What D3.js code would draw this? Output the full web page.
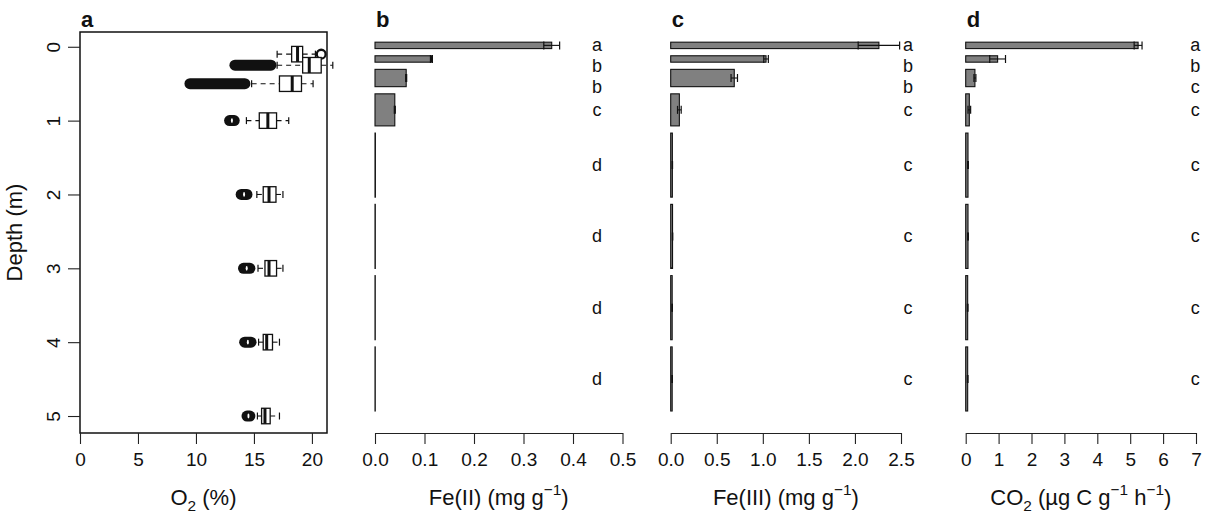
<!DOCTYPE html>
<html>
<head>
<meta charset="utf-8">
<script src="https://cdn.jsdelivr.net/npm/d3@7"></script>
<style>
    body { margin: 0; background: #fff; }
    svg text { font-family: "Liberation Sans", Arial, Helvetica, sans-serif; fill: #111; }
</style>
</head>
<body>
<svg id="chart" width="1211" height="515"></svg>
<script>
// soil layers used by the bar panels (thickness in m)
const layerNames = ["0-0.1", "0.1-0.2", "0.2-0.5", "0.5-1", "1-2", "2-3", "3-4", "4-5"];
const layerThickness = [0.1, 0.1, 0.27, 0.5, 1, 1, 1, 1];

// panel a: O2 boxplots per depth
const o2Depth = [0.1, 0.25, 0.5, 1, 2, 3, 4, 5];
const o2WhiskerLo = [17.0, 17.0, 14.8, 14.35, 15.25, 15.35, 15.4, 15.3];
const o2Q1 = [18.25, 19.2, 17.2, 15.46, 15.8, 15.95, 15.8, 15.66];
const o2Median = [18.76, 19.77, 18.3, 16.2, 16.3, 16.3, 16.1, 15.95];
const o2Q3 = [19.2, 20.8, 19.1, 16.95, 16.9, 16.95, 16.6, 16.4];
const o2WhiskerHi = [20.3, 21.8, 20.1, 18.0, 17.5, 17.5, 17.2, 17.2];
// outliers: range covered by the (dense) outlier points
const o2OutlierLo = [20.8, 13.36, 9.48, 12.9, 13.9, 14.1, 14.2, 14.4];
const o2OutlierHi = [20.8, 16.47, 14.22, 13.3, 14.4, 14.65, 14.75, 14.65];

// panel b: Fe(II)
const fe2Mean = [0.357, 0.114, 0.063, 0.040, 0.0008, 0.0006, 0.0005, 0.0005];
const fe2Se = [0.016, 0.002, 0.001, 0.001, 0, 0, 0, 0];
const fe2Letters = ["a", "b", "b", "c", "d", "d", "d", "d"];

// panel c: Fe(III)
const fe3Mean = [2.26, 1.035, 0.69, 0.094, 0.018, 0.02, 0.016, 0.016];
const fe3Se = [0.225, 0.025, 0.035, 0.02, 0.002, 0.002, 0.002, 0.002];
const fe3Letters = ["a", "b", "b", "c", "c", "c", "c", "c"];

// panel d: CO2
const co2Mean = [5.24, 0.97, 0.28, 0.11, 0.07, 0.07, 0.06, 0.06];
const co2Se = [0.12, 0.24, 0.03, 0.04, 0.01, 0.01, 0.01, 0.01];
const co2Letters = ["a", "b", "c", "c", "c", "c", "c", "c"];

const depthTicks = [0, 1, 2, 3, 4, 5];
const o2Ticks = [0, 5, 10, 15, 20];
const fe2Ticks = [0, 0.1, 0.2, 0.3, 0.4, 0.5];
const fe3Ticks = [0, 0.5, 1, 1.5, 2, 2.5];
const co2Ticks = [0, 1, 2, 3, 4, 5, 6, 7];

const svg = d3.select("#chart");
const plotTop = 32, plotBottom = 433;
const tickFont = 19, titleFont = 22;

// text with sub/superscript pieces
function richText(sel, parts, size) {
    let shift = 0;
    parts.forEach((p) => {
        let target = p.sup ? -0.45 * size : p.sub ? 0.25 * size : 0;
        sel.append("tspan")
            .attr("dy", target - shift)
            .style("font-size", (p.sup || p.sub) ? size * 0.7 + "px" : size + "px")
            .text(p.t);
        shift = target;
    });
}

function styleAxis(g) {
    g.select(".domain").attr("stroke", "#222").attr("stroke-width", 1.1);
    g.selectAll(".tick line").attr("stroke", "#222").attr("stroke-width", 1.1);
    g.selectAll(".tick text").style("font-size", tickFont + "px").attr("fill", "#111");
}

function panelLetter(x0, letter) {
    svg.append("text")
        .attr("x", x0 + 1)
        .attr("y", 26.5)
        .style("font-size", "22px")
        .style("font-weight", "bold")
        .text(letter);
}

function xTitle(cx, parts) {
    let t = svg.append("text")
        .attr("x", cx)
        .attr("y", 505)
        .attr("text-anchor", "middle")
        .style("font-size", titleFont + "px");
    richText(t, parts, titleFont);
}

// ---------- panel a ----------
const xA = d3.scaleLinear().domain([0, 21.3]).range([80, 327]);
const yA = d3.scaleLinear().domain([-0.2, 5.23]).range([plotTop, plotBottom]);
const layerA = svg.append("g");
const boxH = yA(0.21) - yA(0);
const capH = boxH * 0.45;

o2Depth.forEach((d, i) => {
    let yc = yA(d);
    let g = layerA.append("g");

    g.selectAll("line.whisker")
        .data([[o2WhiskerLo[i], o2Q1[i]], [o2Q3[i], o2WhiskerHi[i]]])
        .enter()
        .append("line")
        .attr("x1", (w) => xA(w[0]))
        .attr("x2", (w) => xA(w[1]))
        .attr("y1", yc)
        .attr("y2", yc)
        .attr("stroke", "#111")
        .attr("stroke-width", 1.1)
        .attr("stroke-dasharray", "5,4");

    g.selectAll("line.cap")
        .data([o2WhiskerLo[i], o2WhiskerHi[i]])
        .enter()
        .append("line")
        .attr("x1", (w) => xA(w))
        .attr("x2", (w) => xA(w))
        .attr("y1", yc - capH / 2)
        .attr("y2", yc + capH / 2)
        .attr("stroke", "#111")
        .attr("stroke-width", 1.2);

    g.append("rect")
        .attr("x", xA(o2Q1[i]))
        .attr("y", yc - boxH / 2)
        .attr("width", xA(o2Q3[i]) - xA(o2Q1[i]))
        .attr("height", boxH)
        .attr("fill", "#fff")
        .attr("stroke", "#111")
        .attr("stroke-width", 1.3);

    g.append("line")
        .attr("x1", xA(o2Median[i]))
        .attr("x2", xA(o2Median[i]))
        .attr("y1", yc - boxH / 2)
        .attr("y2", yc + boxH / 2)
        .attr("stroke", "#111")
        .attr("stroke-width", 3);

    let lo = o2OutlierLo[i], hi = o2OutlierHi[i];
    if (lo === hi) {
        g.append("circle")
            .attr("cx", xA(lo))
            .attr("cy", yc)
            .attr("r", 4.4)
            .attr("fill", "none")
            .attr("stroke", "#111")
            .attr("stroke-width", 2.3);
    } else {
        g.append("rect")
            .attr("x", xA(lo) - 5.5)
            .attr("y", yc - 5.5)
            .attr("width", xA(hi) - xA(lo) + 11)
            .attr("height", 11)
            .attr("rx", 5.5)
            .attr("fill", "#111");
        if (hi - lo < 1.2) {
            g.append("ellipse")
                .attr("cx", xA((lo + hi) / 2))
                .attr("cy", yc)
                .attr("rx", 1)
                .attr("ry", 2.4)
                .attr("fill", "#fff");
        }
    }
});

layerA.append("rect")
    .attr("x", xA.range()[0])
    .attr("y", plotTop)
    .attr("width", xA.range()[1] - xA.range()[0])
    .attr("height", plotBottom - plotTop)
    .attr("fill", "none")
    .attr("stroke", "#111")
    .attr("stroke-width", 1.5);

layerA.append("g")
    .attr("transform", `translate(0, ${plotBottom})`)
    .call(d3.axisBottom(xA).tickValues(o2Ticks).tickFormat(d3.format("d"))
        .tickSize(11).tickPadding(9).tickSizeOuter(0))
    .call(styleAxis)
    .select(".domain").remove();

let yAxisA = layerA.append("g")
    .attr("transform", `translate(${xA.range()[0]}, 0)`)
    .call(d3.axisLeft(yA).tickValues(depthTicks).tickFormat(d3.format("d"))
        .tickSize(12).tickSizeOuter(0))
    .call(styleAxis);
yAxisA.select(".domain").remove();
yAxisA.selectAll(".tick text")
    .attr("x", null)
    .attr("dy", null)
    .attr("text-anchor", "middle")
    .attr("transform", "translate(-20, 0) rotate(-90)");

svg.append("text")
    .attr("transform", `translate(22, ${(plotTop + plotBottom) / 2}) rotate(-90)`)
    .attr("text-anchor", "middle")
    .style("font-size", titleFont + "px")
    .text("Depth (m)");

panelLetter(xA(0), "a");
xTitle((xA.range()[0] + xA.range()[1]) / 2, [{t: "O"}, {t: "2", sub: true}, {t: " (%)"}]);

// ---------- bar panels ----------
const barGap = 0.112;
let barPos = [];
let cum = 0;
layerThickness.forEach((t) => {
    let top = cum + barGap;
    barPos.push({top: top, bottom: top + t});
    cum = top + t;
});
const yBar = d3.scaleLinear().domain([0, cum]).range([35, 411]);

// letters sit at bar centres, pushed down so they never touch
const letterMinGap = 21;
let letterY = [];
barPos.forEach((p, i) => {
    let y = yBar((p.top + p.bottom) / 2);
    if (i > 0) y = Math.max(y, letterY[i - 1] + letterMinGap);
    letterY.push(y);
});

function barPanel(x, means, ses, letters, letterX, ticks, fmt, letter, titleParts) {
    let layer = svg.append("g");
    let rows = means.map((m, i) => ({
        name: layerNames[i], mean: m, se: ses[i], letter: letters[i],
        top: barPos[i].top, bottom: barPos[i].bottom, ly: letterY[i]
    }));

    layer.selectAll("rect.bar")
        .data(rows)
        .enter()
        .append("rect")
        .attr("class", "bar")
        .attr("x", x(0))
        .attr("y", (d) => yBar(d.top))
        .attr("width", (d) => x(d.mean) - x(0))
        .attr("height", (d) => yBar(d.bottom) - yBar(d.top))
        .attr("fill", "#808080")
        .attr("stroke", "#111")
        .attr("stroke-width", 1.1);

    let err = layer.selectAll("g.err")
        .data(rows.filter((d) => d.se > 0))
        .enter()
        .append("g");
    err.append("line")
        .attr("x1", (d) => x(d.mean - d.se))
        .attr("x2", (d) => x(d.mean + d.se))
        .attr("y1", (d) => yBar((d.top + d.bottom) / 2))
        .attr("y2", (d) => yBar((d.top + d.bottom) / 2))
        .attr("stroke", "#111")
        .attr("stroke-width", 1.1);
    [-1, 1].forEach((s) => {
        err.append("line")
            .attr("x1", (d) => x(d.mean + s * d.se))
            .attr("x2", (d) => x(d.mean + s * d.se))
            .attr("y1", (d) => yBar((d.top + d.bottom) / 2) - 4)
            .attr("y2", (d) => yBar((d.top + d.bottom) / 2) + 4)
            .attr("stroke", "#111")
            .attr("stroke-width", 1.2);
    });

    layer.selectAll("text.sig")
        .data(rows)
        .enter()
        .append("text")
        .attr("x", x(letterX))
        .attr("y", (d) => d.ly)
        .attr("text-anchor", "middle")
        .attr("dominant-baseline", "central")
        .style("font-size", "18px")
        .text((d) => d.letter);

    layer.append("g")
        .attr("transform", `translate(0, ${plotBottom})`)
        .call(d3.axisBottom(x).tickValues(ticks).tickFormat(fmt)
            .tickSize(11).tickPadding(9).tickSizeOuter(0))
        .call(styleAxis);

    panelLetter(x(0), letter);
    xTitle((x.range()[0] + x.range()[1]) / 2, titleParts);
}

const xB = d3.scaleLinear().domain([0, 0.5]).range([375, 622.5]);
const xC = d3.scaleLinear().domain([0, 2.5]).range([670.7, 901]);
const xD = d3.scaleLinear().domain([0, 7]).range([965.7, 1196]);

barPanel(xB, fe2Mean, fe2Se, fe2Letters, 0.4485, fe2Ticks, d3.format(".1f"), "b",
    [{t: "Fe(II) (mg g"}, {t: "\u22121", sup: true}, {t: ")"}]);
barPanel(xC, fe3Mean, fe3Se, fe3Letters, 2.577, fe3Ticks, d3.format(".1f"), "c",
    [{t: "Fe(III) (mg g"}, {t: "\u22121", sup: true}, {t: ")"}]);
barPanel(xD, co2Mean, co2Se, co2Letters, 6.98, co2Ticks, d3.format("d"), "d",
    [{t: "CO"}, {t: "2", sub: true}, {t: " (\u00b5g C g"}, {t: "\u22121", sup: true},
     {t: " h"}, {t: "\u22121", sup: true}, {t: ")"}]);
</script>
</body>
</html>
